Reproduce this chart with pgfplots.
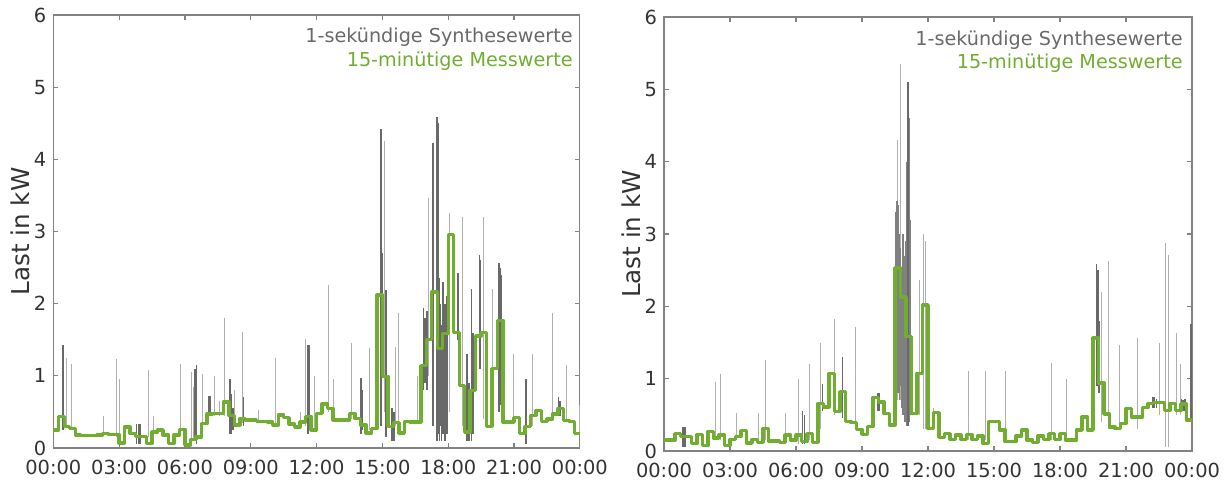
\documentclass[border=0pt]{standalone}
\usepackage{fontspec}
\setmainfont{DejaVu Sans}
\usepackage{pgfplots}
\pgfplotsset{compat=1.18}
\definecolor{grn}{RGB}{112,173,48}
\definecolor{dgray}{RGB}{105,105,105}
\definecolor{mgray}{RGB}{128,128,128}
\definecolor{lgray}{RGB}{175,175,175}
\definecolor{txtgray}{RGB}{105,105,105}
\definecolor{axgray}{RGB}{130,130,130}
\pgfplotsset{
  myax/.style={
    scale only axis,
    width=263.3pt, height=216.5pt,
    xmin=0, xmax=24, ymin=0, ymax=6,
    xtick={0,3,...,24},
    xticklabels={00:00,03:00,06:00,09:00,12:00,15:00,18:00,21:00,00:00},
    ytick={0,1,...,6},
    tick align=inside,
    major tick length=2.5pt,
    axis line style={axgray, line width=0.6pt},
    every tick/.style={axgray, line width=0.6pt},
    tick label style={font=\fontsize{9.7}{11}\selectfont, text=black!80},
    xticklabel style={anchor=base, yshift=-13pt},
    /pgf/number format/assume math mode=true,
    ylabel={Last in kW},
    ylabel style={at={(axis description cs:-0.062,0.5)}, anchor=center, rotate=0, font=\fontsize{12.3}{14}\selectfont, text=black!80},
    unbounded coords=jump,
  },
  lightspk/.style={lgray, line width=0.4pt},
  darkspk/.style={dgray, line width=0.8pt},
  midspk/.style={mgray, line width=0.9pt},
  grnline/.style={grn, line width=1.7pt, const plot, line join=round},
}
\begin{document}
\begin{tikzpicture}
% ---------------- left panel ----------------
\begin{axis}[myax, at={(26.65pt,15.5pt)}, anchor=south west]
\addplot[lightspk] coordinates {
(0.58,0.30) (0.58,1.25) (0.58,nan)
(0.81,0.28) (0.81,1.17) (0.81,nan)
(2.27,0.20) (2.27,0.44) (2.27,nan)
(2.89,0.15) (2.89,1.24) (2.89,nan)
(3.02,0.10) (3.02,0.95) (3.02,nan)
(4.33,0.15) (4.33,1.08) (4.33,nan)
(4.56,0.22) (4.56,0.45) (4.56,nan)
(5.77,0.20) (5.77,1.17) (5.77,nan)
(6.30,0.05) (6.30,1.06) (6.30,nan)
(6.38,0.10) (6.38,0.85) (6.38,nan)
(6.79,0.15) (6.79,1.03) (6.79,nan)
(7.36,0.45) (7.36,1.00) (7.36,nan)
(7.59,0.45) (7.59,0.65) (7.59,nan)
(7.79,0.45) (7.79,1.80) (7.79,nan)
(8.27,0.35) (8.27,0.80) (8.27,nan)
(8.63,0.35) (8.63,1.61) (8.63,nan)
(9.35,0.38) (9.35,0.52) (9.35,nan)
(10.10,0.35) (10.10,1.25) (10.10,nan)
(11.24,0.30) (11.24,0.50) (11.24,nan)
(11.47,0.30) (11.47,1.51) (11.47,nan)
(11.92,0.25) (11.92,1.00) (11.92,nan)
(12.53,0.50) (12.53,2.26) (12.53,nan)
(12.75,0.40) (12.75,0.95) (12.75,nan)
(13.60,0.40) (13.60,1.45) (13.60,nan)
(14.40,0.25) (14.40,1.38) (14.40,nan)
(15.11,0.50) (15.11,4.26) (15.11,nan)
(15.60,0.30) (15.60,1.40) (15.60,nan)
(15.72,0.25) (15.72,1.87) (15.72,nan)
(16.60,0.35) (16.60,1.00) (16.60,nan)
(17.08,1.00) (17.08,3.46) (17.08,nan)
(18.05,0.50) (18.05,3.25) (18.05,nan)
(18.63,0.30) (18.63,3.20) (18.63,nan)
(19.60,0.40) (19.60,3.20) (19.60,nan)
(20.00,0.30) (20.00,2.20) (20.00,nan)
(20.95,0.35) (20.95,1.30) (20.95,nan)
(21.85,0.30) (21.85,1.30) (21.85,nan)
(22.73,0.40) (22.73,1.87) (22.73,nan)
(23.40,0.40) (23.40,1.15) (23.40,nan)
(23.99,0.20) (23.99,0.60) (23.99,nan)
};
\addplot[darkspk] coordinates {
(0.43,0.25) (0.43,1.43) (0.43,nan)
(3.80,0.05) (3.80,0.33) (3.80,nan)
(3.88,0.05) (3.88,0.33) (3.88,nan)
(3.96,0.05) (3.96,0.33) (3.96,nan)
(6.45,0.10) (6.45,1.10) (6.45,nan)
(6.53,0.05) (6.53,1.15) (6.53,nan)
(7.09,0.45) (7.09,0.72) (7.09,nan)
(7.17,0.45) (7.17,0.72) (7.17,nan)
(8.05,0.20) (8.05,0.95) (8.05,nan)
(8.12,0.20) (8.12,0.75) (8.12,nan)
(8.18,0.25) (8.18,0.55) (8.18,nan)
(8.66,0.30) (8.66,0.70) (8.66,nan)
(11.60,0.20) (11.60,1.43) (11.60,nan)
(11.67,0.25) (11.67,1.43) (11.67,nan)
(14.02,0.20) (14.02,0.97) (14.02,nan)
(14.08,0.25) (14.08,0.80) (14.08,nan)
(14.93,0.30) (14.93,4.42) (14.93,nan)
(14.98,1.00) (14.98,2.70) (14.98,nan)
(15.15,0.15) (15.15,2.19) (15.15,nan)
(15.45,0.10) (15.45,0.55) (15.45,nan)
(15.52,0.10) (15.52,0.50) (15.52,nan)
(16.88,0.80) (16.88,1.94) (16.88,nan)
(16.95,0.90) (16.95,1.80) (16.95,nan)
(17.02,0.80) (17.02,1.90) (17.02,nan)
(17.30,0.30) (17.30,4.23) (17.30,nan)
(17.48,0.10) (17.48,4.59) (17.48,nan)
(17.52,0.20) (17.52,4.50) (17.52,nan)
(17.60,0.10) (17.60,2.35) (17.60,nan)
(17.65,0.30) (17.65,2.00) (17.65,nan)
(17.70,0.10) (17.70,1.70) (17.70,nan)
(17.75,0.20) (17.75,2.30) (17.75,nan)
(17.80,0.40) (17.80,1.90) (17.80,nan)
(17.85,0.10) (17.85,2.00) (17.85,nan)
(17.90,0.30) (17.90,1.50) (17.90,nan)
(17.95,0.20) (17.95,2.10) (17.95,nan)
(18.45,1.50) (18.45,2.42) (18.45,nan)
(18.85,0.10) (18.85,1.30) (18.85,nan)
(18.95,0.10) (18.95,0.90) (18.95,nan)
(19.06,0.10) (19.06,2.20) (19.06,nan)
(19.12,0.20) (19.12,1.60) (19.12,nan)
(19.42,1.10) (19.42,2.67) (19.42,nan)
(19.47,1.10) (19.47,2.60) (19.47,nan)
(20.30,0.50) (20.30,2.56) (20.30,nan)
(20.36,0.60) (20.36,2.50) (20.36,nan)
(20.42,0.60) (20.42,2.40) (20.42,nan)
(21.53,0.05) (21.53,0.95) (21.53,nan)
(23.02,0.45) (23.02,0.70) (23.02,nan)
(23.08,0.45) (23.08,0.65) (23.08,nan)
};
\addplot[grnline] coordinates {
(0,0.25) (0.25,0.44) (0.5,0.30) (0.75,0.27) (1,0.18) (1.25,0.17) (1.5,0.17) (1.75,0.17)
(2,0.18) (2.25,0.20) (2.5,0.19) (2.75,0.19) (3,0.07) (3.25,0.29) (3.5,0.20) (3.75,0.16)
(4,0.16) (4.25,0.06) (4.5,0.22) (4.75,0.25) (5,0.18) (5.25,0.06) (5.5,0.18) (5.75,0.26)
(6,0.04) (6.25,0.12) (6.5,0.15) (6.75,0.34) (7,0.47) (7.25,0.48) (7.5,0.48) (7.75,0.64)
(8,0.45) (8.25,0.32) (8.5,0.41) (8.75,0.39) (9,0.39) (9.25,0.37) (9.5,0.37) (9.75,0.36)
(10,0.32) (10.25,0.46) (10.5,0.42) (10.75,0.33) (11,0.29) (11.25,0.36) (11.5,0.44) (11.75,0.25)
(12,0.48) (12.25,0.61) (12.5,0.55) (12.75,0.39) (13,0.39) (13.25,0.39) (13.5,0.48) (13.75,0.41)
(14,0.32) (14.25,0.21) (14.5,0.27) (14.75,2.12) (15,0.99) (15.25,0.30) (15.5,0.35) (15.75,0.21)
(16,0.37) (16.25,0.36) (16.5,0.36) (16.75,1.14) (17,1.50) (17.25,2.16) (17.5,1.38) (17.75,1.59)
(18,2.96) (18.25,1.60) (18.5,0.87) (18.75,0.22) (19,0.80) (19.25,1.55) (19.5,1.60) (19.75,0.30)
(20,1.10) (20.25,1.77) (20.5,0.36) (20.75,0.36) (21,0.42) (21.25,0.20) (21.5,0.30) (21.75,0.45)
(22,0.52) (22.25,0.37) (22.5,0.40) (22.75,0.47) (23,0.55) (23.25,0.38) (23.5,0.37) (23.75,0.20)
(24,0.20)
};
\node[anchor=east, text=txtgray, font=\fontsize{9.6}{11}\selectfont, inner sep=0pt] at (rel axis cs:0.987,0.949) {1-sekündige Synthesewerte};
\node[anchor=east, text=grn, font=\fontsize{9.6}{11}\selectfont, inner sep=0pt] at (rel axis cs:0.987,0.894) {15-minütige Messwerte};
\end{axis}
% ---------------- right panel ----------------
\begin{axis}[myax, at={(332pt,14pt)}, anchor=south west, width=264pt, height=217pt]
\addplot[lightspk] coordinates {
(2.32,0.15) (2.32,0.96) (2.32,nan)
(2.55,0.15) (2.55,1.07) (2.55,nan)
(3.30,0.15) (3.30,0.52) (3.30,nan)
(4.29,0.15) (4.29,0.52) (4.29,nan)
(4.59,0.15) (4.59,1.26) (4.59,nan)
(5.53,0.10) (5.53,0.52) (5.53,nan)
(6.10,0.10) (6.10,1.00) (6.10,nan)
(6.60,0.15) (6.60,1.20) (6.60,nan)
(7.09,0.30) (7.09,1.49) (7.09,nan)
(7.74,0.50) (7.74,1.82) (7.74,nan)
(8.68,0.30) (8.68,1.72) (8.68,nan)
(10.60,0.70) (10.60,4.30) (10.60,nan)
(10.75,0.70) (10.75,5.35) (10.75,nan)
(11.60,0.50) (11.60,2.36) (11.60,nan)
(11.80,0.30) (11.80,3.00) (11.80,nan)
(11.86,0.30) (11.86,2.90) (11.86,nan)
(12.25,0.30) (12.25,0.60) (12.25,nan)
(13.83,0.15) (13.83,1.10) (13.83,nan)
(14.60,0.15) (14.60,1.10) (14.60,nan)
(15.50,0.15) (15.50,1.10) (15.50,nan)
(17.60,0.15) (17.60,1.22) (17.60,nan)
(18.30,0.15) (18.30,1.00) (18.30,nan)
(19.90,0.40) (19.90,2.20) (19.90,nan)
(20.20,0.30) (20.20,2.62) (20.20,nan)
(20.70,0.30) (20.70,1.46) (20.70,nan)
(21.50,0.30) (21.50,1.56) (21.50,nan)
(22.50,0.50) (22.50,1.49) (22.50,nan)
(22.77,0.05) (22.77,2.87) (22.77,nan)
(22.92,0.05) (22.92,2.71) (22.92,nan)
(23.27,0.50) (23.27,1.63) (23.27,nan)
(23.45,0.50) (23.45,1.20) (23.45,nan)
};
\addplot[midspk] coordinates {
(10.55,0.70) (10.55,3.30) (10.55,nan)
(10.60,1.00) (10.60,3.45) (10.60,nan)
(10.65,0.80) (10.65,3.40) (10.65,nan)
(10.70,0.70) (10.70,3.00) (10.70,nan)
(10.75,0.90) (10.75,2.80) (10.75,nan)
(10.80,0.60) (10.80,2.50) (10.80,nan)
(10.85,0.50) (10.85,3.00) (10.85,nan)
(10.90,0.60) (10.90,2.60) (10.90,nan)
(10.95,0.40) (10.95,2.70) (10.95,nan)
(11.00,0.50) (11.00,2.90) (11.00,nan)
(11.05,0.35) (11.05,4.00) (11.05,nan)
(11.13,0.40) (11.13,4.60) (11.13,nan)
(11.17,0.50) (11.17,3.20) (11.17,nan)
};
\addplot[darkspk] coordinates {
(0.84,0.05) (0.84,0.33) (0.84,nan)
(0.90,0.05) (0.90,0.33) (0.90,nan)
(0.96,0.05) (0.96,0.33) (0.96,nan)
(6.30,0.10) (6.30,0.55) (6.30,nan)
(6.38,0.10) (6.38,0.50) (6.38,nan)
(7.20,0.55) (7.20,0.93) (7.20,nan)
(8.12,0.45) (8.12,1.30) (8.12,nan)
(9.72,0.55) (9.72,0.80) (9.72,nan)
(9.80,0.55) (9.80,0.80) (9.80,nan)
(11.09,0.35) (11.09,5.10) (11.09,nan)
(19.66,0.90) (19.66,2.58) (19.66,nan)
(19.72,0.90) (19.72,2.50) (19.72,nan)
(19.78,0.80) (19.78,1.80) (19.78,nan)
(22.22,0.60) (22.22,0.75) (22.22,nan)
(22.30,0.60) (22.30,0.75) (22.30,nan)
(22.38,0.60) (22.38,0.72) (22.38,nan)
(23.52,0.55) (23.52,0.72) (23.52,nan)
(23.60,0.55) (23.60,0.70) (23.60,nan)
(23.68,0.55) (23.68,0.72) (23.68,nan)
(23.96,0.40) (23.96,1.75) (23.96,nan)
};
\addplot[grnline] coordinates {
(0,0.15) (0.25,0.15) (0.5,0.24) (0.75,0.20) (1,0.20) (1.25,0.10) (1.5,0.23) (1.75,0.08)
(2,0.27) (2.25,0.18) (2.5,0.22) (2.75,0.08) (3,0.16) (3.25,0.20) (3.5,0.28) (3.75,0.11)
(4,0.16) (4.25,0.12) (4.5,0.31) (4.75,0.14) (5,0.14) (5.25,0.12) (5.5,0.22) (5.75,0.15)
(6,0.22) (6.25,0.13) (6.5,0.24) (6.75,0.12) (7,0.66) (7.25,0.61) (7.5,1.07) (7.75,0.55)
(8,0.82) (8.25,0.41) (8.5,0.39) (8.75,0.30) (9,0.23) (9.25,0.34) (9.5,0.74) (9.75,0.68)
(10,0.52) (10.25,0.36) (10.5,2.53) (10.75,2.13) (11,1.58) (11.25,0.52) (11.5,1.07) (11.75,2.02)
(12,0.31) (12.25,0.53) (12.5,0.19) (12.75,0.24) (13,0.16) (13.25,0.22) (13.5,0.16) (13.75,0.23)
(14,0.16) (14.25,0.21) (14.5,0.10) (14.75,0.41) (15,0.41) (15.25,0.29) (15.5,0.13) (15.75,0.13)
(16,0.21) (16.25,0.29) (16.5,0.15) (16.75,0.12) (17,0.21) (17.25,0.16) (17.5,0.24) (17.75,0.16)
(18,0.24) (18.25,0.15) (18.5,0.15) (18.75,0.29) (19,0.47) (19.25,0.29) (19.5,1.56) (19.75,0.94)
(20,0.51) (20.25,0.33) (20.5,0.31) (20.75,0.38) (21,0.59) (21.25,0.47) (21.5,0.47) (21.75,0.60)
(22,0.66) (22.25,0.67) (22.5,0.67) (22.75,0.56) (23,0.66) (23.25,0.56) (23.5,0.65) (23.75,0.43)
(24,0.43)
};
\node[anchor=east, text=txtgray, font=\fontsize{9.6}{11}\selectfont, inner sep=0pt] at (rel axis cs:0.983,0.947) {1-sekündige Synthesewerte};
\node[anchor=east, text=grn, font=\fontsize{9.6}{11}\selectfont, inner sep=0pt] at (rel axis cs:0.983,0.894) {15-minütige Messwerte};
\end{axis}
\pgfresetboundingbox
\path[use as bounding box] (0,0) rectangle (614pt,239.5pt);
\end{tikzpicture}
\end{document}
